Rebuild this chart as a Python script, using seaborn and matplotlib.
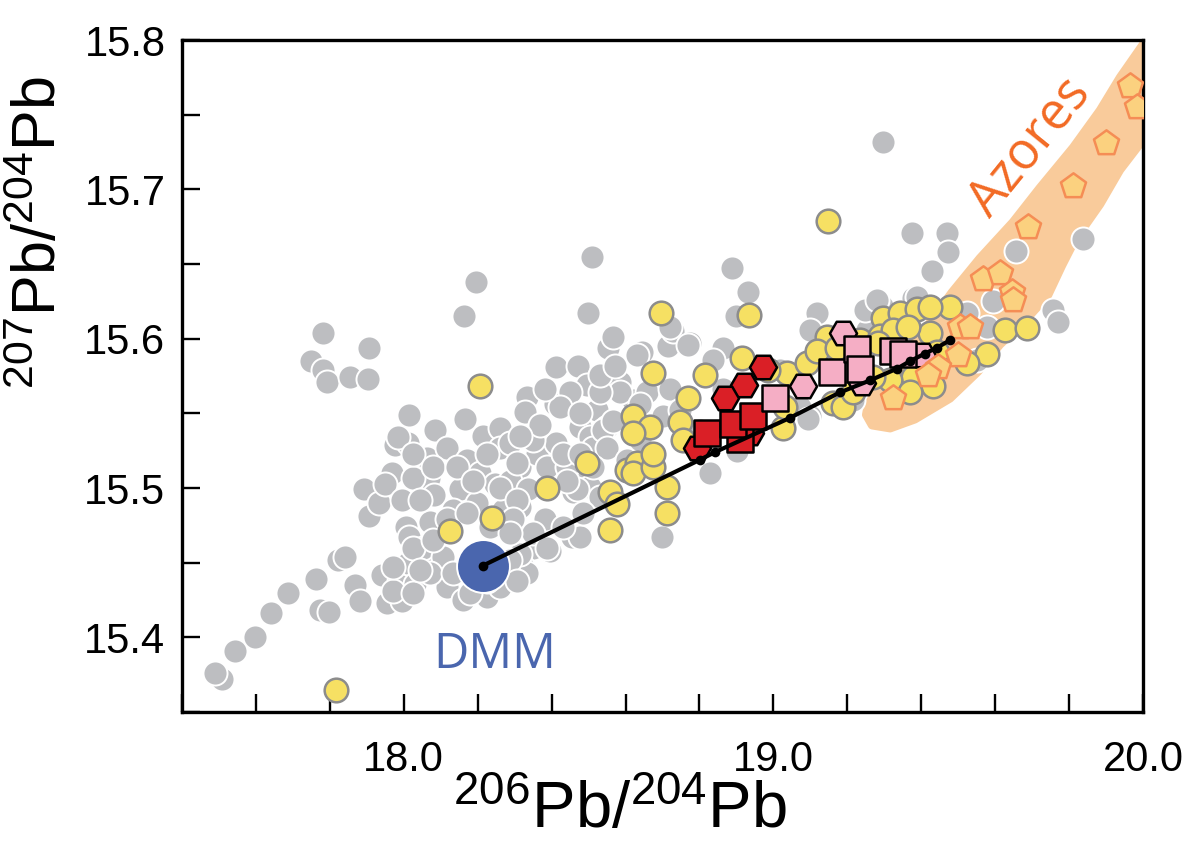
import matplotlib
matplotlib.use("Agg")
import matplotlib.pyplot as plt
import seaborn as sns
from matplotlib import font_manager
from matplotlib.ticker import FixedLocator, MultipleLocator, FormatStrFormatter

# ---------------------------------------------------------------------------
# Pb isotope data (206Pb/204Pb, 207Pb/204Pb)
# ---------------------------------------------------------------------------
# Global MORB compilation (grey)
morb_206 = [17.508, 17.489, 17.543, 17.598, 17.641, 17.687, 17.763, 17.822, 17.841, 17.773,
            17.798, 17.868, 17.882, 17.941, 17.955, 17.995, 17.987, 18.011, 18.030, 18.057,
            18.006, 18.014, 17.906, 17.892, 17.933, 17.968, 17.949, 17.995, 17.976, 18.011,
            18.014, 18.085, 18.063, 18.068, 18.082, 18.071, 17.781, 17.906, 17.749, 17.781,
            17.792, 17.855, 17.903, 18.163, 18.195, 18.509, 18.498, 18.553, 18.566, 18.645,
            18.412, 18.471, 18.496, 18.333, 18.328, 18.409, 18.477, 18.450, 18.423, 18.523,
            18.585, 18.620, 18.166, 18.214, 18.260, 18.117, 18.171, 18.206, 18.260, 18.315,
            18.360, 18.412, 18.388, 18.458, 18.504, 18.025, 18.152, 18.198, 18.247, 18.287,
            18.336, 18.315, 18.382, 18.458, 18.504, 18.455, 18.396, 18.133, 18.268, 18.350,
            18.323, 18.333, 17.971, 18.025, 18.117, 18.160, 18.225, 18.477, 18.225, 18.287,
            18.442, 18.512, 18.550, 18.260, 18.306, 18.531, 18.052, 18.296, 18.350, 18.388,
            18.477, 18.539, 18.585, 18.306, 18.469, 18.315, 18.106, 18.071, 18.198, 18.260,
            18.279, 18.631, 18.715, 18.774, 18.728, 18.531, 18.658, 18.720, 18.639, 18.566,
            18.701, 18.747, 18.864, 18.837, 18.864, 18.550, 18.604, 18.829, 18.910, 19.099,
            19.072, 19.261, 19.253, 19.215, 19.118, 19.294, 19.378, 18.931, 18.888, 18.899,
            18.720, 18.769, 19.099, 19.248, 18.902, 19.094, 19.018, 19.297, 19.375, 19.470,
            19.473, 19.429, 19.657, 19.838, 19.594, 19.757, 19.770, 19.280, 19.389, 19.524,
            19.578, 19.551, 18.699, 17.984, 18.025, 18.079, 18.144, 18.187, 18.350, 18.431,
            18.477, 18.442, 18.512, 18.044, 18.117, 18.171, 18.233, 18.287, 18.431, 18.485,
            18.025, 18.079, 17.971, 18.044, 18.133, 18.287, 18.306, 18.179, 18.225, 18.369,
            18.315, 18.382, 18.531, 18.572, 18.639, 18.802]
morb_207 = [15.372, 15.376, 15.391, 15.400, 15.416, 15.430, 15.439, 15.452, 15.454, 15.418,
            15.417, 15.435, 15.424, 15.442, 15.423, 15.424, 15.438, 15.450, 15.436, 15.447,
            15.474, 15.467, 15.481, 15.499, 15.490, 15.510, 15.503, 15.492, 15.529, 15.530,
            15.549, 15.539, 15.520, 15.507, 15.495, 15.477, 15.604, 15.594, 15.585, 15.579,
            15.571, 15.574, 15.573, 15.615, 15.638, 15.655, 15.617, 15.594, 15.601, 15.591,
            15.581, 15.582, 15.569, 15.561, 15.551, 15.556, 15.541, 15.564, 15.554, 15.552,
            15.571, 15.559, 15.546, 15.535, 15.540, 15.527, 15.519, 15.510, 15.527, 15.514,
            15.523, 15.530, 15.514, 15.510, 15.534, 15.507, 15.499, 15.490, 15.503, 15.505,
            15.499, 15.487, 15.479, 15.497, 15.501, 15.467, 15.458, 15.485, 15.485, 15.460,
            15.447, 15.443, 15.431, 15.430, 15.434, 15.425, 15.427, 15.550, 15.523, 15.530,
            15.514, 15.527, 15.541, 15.500, 15.492, 15.494, 15.460, 15.479, 15.470, 15.460,
            15.467, 15.539, 15.564, 15.517, 15.499, 15.456, 15.454, 15.443, 15.438, 15.434,
            15.447, 15.589, 15.595, 15.597, 15.605, 15.564, 15.564, 15.566, 15.556, 15.545,
            15.548, 15.552, 15.594, 15.586, 15.566, 15.527, 15.519, 15.510, 15.527, 15.548,
            15.554, 15.617, 15.606, 15.559, 15.617, 15.622, 15.627, 15.631, 15.647, 15.615,
            15.608, 15.596, 15.606, 15.619, 15.525, 15.546, 15.579, 15.732, 15.671, 15.671,
            15.658, 15.645, 15.659, 15.667, 15.625, 15.619, 15.611, 15.626, 15.628, 15.617,
            15.608, 15.586, 15.467, 15.534, 15.523, 15.514, 15.514, 15.505, 15.532, 15.523,
            15.523, 15.505, 15.514, 15.492, 15.479, 15.483, 15.474, 15.470, 15.474, 15.483,
            15.460, 15.465, 15.447, 15.445, 15.443, 15.452, 15.438, 15.430, 15.438, 15.542,
            15.535, 15.566, 15.576, 15.582, 15.532, 15.539]

# Ridge basalts (yellow)
ridge_206 = [17.817, 18.125, 18.239, 18.206, 18.388, 18.496, 18.696, 18.934, 19.148, 18.558,
             18.558, 18.577, 18.620, 18.666, 18.604, 18.631, 18.674, 18.815, 18.769, 18.915,
             18.620, 18.674, 18.712, 18.712, 18.747, 18.756, 19.026, 19.031, 19.037, 18.985,
             19.091, 19.145, 19.118, 19.161, 19.172, 19.234, 19.297, 19.343, 19.389, 19.478,
             19.288, 19.324, 19.424, 19.443, 19.432, 19.378, 19.316, 19.424, 19.364, 19.283,
             19.362, 19.578, 19.524, 19.627, 19.686, 19.370, 19.188, 19.215, 19.270, 18.620,
             18.674]
ridge_207 = [15.365, 15.471, 15.480, 15.568, 15.500, 15.517, 15.617, 15.616, 15.679, 15.472,
             15.497, 15.489, 15.548, 15.541, 15.512, 15.517, 15.577, 15.576, 15.560, 15.587,
             15.510, 15.514, 15.501, 15.483, 15.544, 15.532, 15.540, 15.554, 15.577, 15.579,
             15.584, 15.601, 15.592, 15.557, 15.594, 15.599, 15.614, 15.617, 15.620, 15.621,
             15.602, 15.606, 15.604, 15.591, 15.568, 15.574, 15.572, 15.621, 15.608, 15.597,
             15.590, 15.590, 15.584, 15.606, 15.607, 15.564, 15.554, 15.564, 15.574, 15.537,
             15.523]

# Red samples: hexagons and squares
red_hex_206 = [18.972, 18.921, 18.869, 18.793, 18.937]
red_hex_207 = [15.581, 15.569, 15.560, 15.527, 15.537]
red_sq_206 = [18.910, 18.820, 18.891, 18.945]
red_sq_207 = [15.533, 15.537, 15.543, 15.548]

# Pink samples: hexagons and squares
pink_hex_206 = [19.080, 19.188, 19.240, 19.402]
pink_hex_207 = [15.568, 15.604, 15.570, 15.589]
pink_sq_206 = [19.004, 19.159, 19.226, 19.234, 19.324, 19.351]
pink_sq_207 = [15.560, 15.578, 15.593, 15.580, 15.592, 15.590]

# Azores lavas (pentagons) and their field outline
azores_206 = [19.965, 19.984, 19.900, 19.811, 19.689, 19.567, 19.613, 19.646, 19.648, 19.505,
              19.532, 19.500, 19.445, 19.418, 19.324]
azores_207 = [15.769, 15.755, 15.731, 15.702, 15.675, 15.640, 15.644, 15.631, 15.626, 15.608,
              15.608, 15.589, 15.581, 15.576, 15.560]
azores_field_206 = [19.256, 19.289, 19.356, 19.424, 19.483, 19.559, 19.648, 19.721, 19.811, 19.884,
                    19.938, 20.000, 20.000, 19.938, 19.884, 19.816, 19.781, 19.743, 19.681, 19.613,
                    19.554, 19.478, 19.383, 19.316, 19.267, 19.251]
azores_field_207 = [15.556, 15.569, 15.589, 15.611, 15.631, 15.654, 15.678, 15.701, 15.728, 15.753,
                    15.775, 15.797, 15.733, 15.713, 15.690, 15.666, 15.649, 15.629, 15.612, 15.596,
                    15.578, 15.560, 15.546, 15.540, 15.542, 15.549]

# DMM end-member and mixing line with increments
dmm_206 = [18.214]
dmm_207 = [15.448]
mix_206 = [18.214, 18.802, 18.842, 19.045, 19.180, 19.261, 19.335, 19.370, 19.410, 19.443, 19.478]
mix_207 = [15.448, 15.519, 15.524, 15.547, 15.564, 15.572, 15.580, 15.585, 15.590, 15.594, 15.599]

x_major = [18.0, 19.0, 20.0]

# ---------------------------------------------------------------------------
sns.set_theme(style="ticks")
plt.rcParams["font.family"] = ["Liberation Sans", "DejaVu Sans"]
plt.rcParams["mathtext.fontset"] = "custom"
plt.rcParams["mathtext.rm"] = "Liberation Sans"
plt.rcParams["mathtext.it"] = "Liberation Sans:italic"
plt.rcParams["mathtext.bf"] = "Liberation Sans:bold"
for key in ("text.color", "axes.labelcolor", "xtick.color", "ytick.color",
            "xtick.labelcolor", "ytick.labelcolor"):
    plt.rcParams[key] = "black"


def family_or(name, fallback):
    try:
        font_manager.findfont(font_manager.FontProperties(family=name),
                              fallback_to_default=False)
        return name
    except ValueError:
        return fallback


humanist = family_or("Open Sans", "DejaVu Sans")

fig = plt.figure(figsize=(11.86, 8.44), dpi=100)
ax = fig.add_axes([0.1535, 0.1564, 0.8102, 0.7962])

# Azores field
ax.fill(azores_field_206, azores_field_207, color="#F9CB9B", lw=6,
        joinstyle="round", zorder=1)

common = dict(ax=ax, legend=False)
sns.scatterplot(x=morb_206, y=morb_207, marker="o", s=300, color="#BDBEC1",
                edgecolor="white", linewidth=1.4, zorder=2, **common)
sns.scatterplot(x=ridge_206, y=ridge_207, marker="o", s=290, color="#F6E063",
                edgecolor="#8C8C8C", linewidth=1.8, zorder=3, **common)
sns.scatterplot(x=red_hex_206, y=red_hex_207, marker="H", s=380, color="#DA1F26",
                edgecolor="black", linewidth=1.8, zorder=4, **common)
sns.scatterplot(x=red_sq_206, y=red_sq_207, marker="s", s=330, color="#DA1F26",
                edgecolor="black", linewidth=1.8, zorder=4, **common)
sns.scatterplot(x=pink_hex_206, y=pink_hex_207, marker="H", s=380, color="#F5AEC5",
                edgecolor="black", linewidth=1.8, zorder=4, **common)
sns.scatterplot(x=pink_sq_206, y=pink_sq_207, marker="s", s=330, color="#F5AEC5",
                edgecolor="black", linewidth=1.8, zorder=4, **common)
sns.scatterplot(x=azores_206, y=azores_207, marker="p", s=360, color="#FBD17F",
                edgecolor="#F58D55", linewidth=1.8, zorder=5, **common)
sns.scatterplot(x=dmm_206, y=dmm_207, marker="o", s=1450, color="#4A66AE",
                edgecolor="white", linewidth=1.4, zorder=6, **common)
sns.lineplot(x=mix_206, y=mix_207, sort=False, estimator=None, color="black",
             lw=3.0, marker="o", markersize=7, markeredgewidth=0, ax=ax, zorder=7)

ax.text(18.247, 15.388, "DMM", color="#4A66AE", fontsize=35, family=humanist,
        ha="center", va="center", zorder=8)
ax.text(19.694, 15.728, "Azores", color="#F26A24", fontsize=37, family=humanist,
        ha="center", va="center", rotation=51, rotation_mode="anchor", zorder=8)

ax.set_xlim(17.4, 20.0)
ax.set_ylim(15.35, 15.8)
ax.xaxis.set_major_locator(FixedLocator(x_major))
ax.xaxis.set_minor_locator(MultipleLocator(0.2))
ax.yaxis.set_major_locator(MultipleLocator(0.1))
ax.yaxis.set_minor_locator(MultipleLocator(0.05))
ax.xaxis.set_major_formatter(FormatStrFormatter("%.1f"))
ax.yaxis.set_major_formatter(FormatStrFormatter("%.1f"))
ax.tick_params(which="both", direction="in", length=13, width=1.7, color="black")
ax.tick_params(axis="x", which="major", pad=20, labelsize=30)
ax.tick_params(axis="y", which="major", pad=12, labelsize=30)
for side in ax.spines.values():
    side.set_linewidth(2.4)
    side.set_color("black")
ax.set_xlabel("")
ax.set_ylabel("")

fig.text(620 / 1186, 1 - 841 / 844, r"$^{206}$Pb/$^{204}$Pb", ha="center", va="bottom",
         fontsize=47, color="black")
fig.text(40 / 1186, 1 - 232 / 844, r"$^{207}$Pb/$^{204}$Pb", ha="center", va="center",
         fontsize=44, rotation=90, color="black")

fig.savefig("out.png", dpi=100)
